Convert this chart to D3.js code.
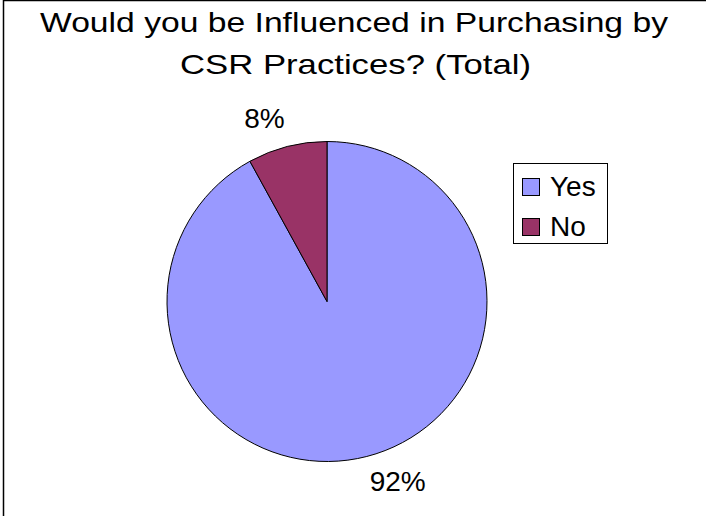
<!DOCTYPE html>
<html><head><meta charset="utf-8">
<script src="https://cdn.jsdelivr.net/npm/d3@7"></script>
<style>body{margin:0;background:#fff;}svg{display:block;font-family:Arial,"Liberation Sans",sans-serif;}</style>
</head><body><svg id="c" width="706" height="516"></svg>
<script>
const titleLines = ["Would you be Influenced in Purchasing by", "CSR Practices? (Total)"];
const categories = ["Yes", "No"];
const values = [92, 8];
const labels = ["92%", "8%"];
const colors = ["#9999FF", "#993366"];

const svg = d3.select("#c");
svg.append("rect").attr("x",3.5).attr("y",0.5).attr("width",720).attr("height",530)
  .attr("fill","#fff").attr("stroke","#000").attr("stroke-width",1.5);

const titleW=[628,351];
svg.selectAll("text.title").data(titleLines).join("text").attr("class","title")
  .attr("x",(d,i)=>i===0?354:355.5).attr("y",(d,i)=>32+i*42).attr("text-anchor","middle")
  .attr("font-size",28.5).attr("textLength",(d,i)=>titleW[i]).attr("lengthAdjust","spacingAndGlyphs")
  .text(d=>d);

const cx=327, cy=301.5, r=160;
const pie=d3.pie().sort(null).value(d=>d)(values);
const arc=d3.arc().innerRadius(0).outerRadius(r);
const g=svg.append("g").attr("transform",`translate(${cx},${cy})`);
g.selectAll("path").data(pie).join("path").attr("d",arc)
  .attr("fill",(d,i)=>colors[i]).attr("stroke","#000").attr("stroke-width",1);
const labArc=d3.arc().innerRadius(187).outerRadius(187);
g.selectAll("text").data(pie).join("text")
  .attr("x",function(d,i){const c=labArc.centroid(d);const hw=labels[i].length*0.36*28;return c[0]+Math.sign(c[0])*hw*0.8;})
  .attr("y",d=>labArc.centroid(d)[1]+8)
  .attr("text-anchor","middle")
  .attr("font-size",28).text((d,i)=>labels[i]);

const lg=svg.append("g");
lg.append("rect").attr("x",513.5).attr("y",163.5).attr("width",94).attr("height",80)
  .attr("fill","#fff").attr("stroke","#000").attr("stroke-width",1);
const items=lg.selectAll("g.it").data(categories).join("g").attr("class","it")
  .attr("transform",(d,i)=>`translate(522,${178+i*40})`);
items.append("rect").attr("x",0.5).attr("y",0.5).attr("width",17).attr("height",17)
  .attr("fill",(d,i)=>colors[i]).attr("stroke","#000").attr("stroke-width",1);
items.append("text").attr("x",28).attr("y",18).attr("font-size",28).text(d=>d);
</script></body></html>
